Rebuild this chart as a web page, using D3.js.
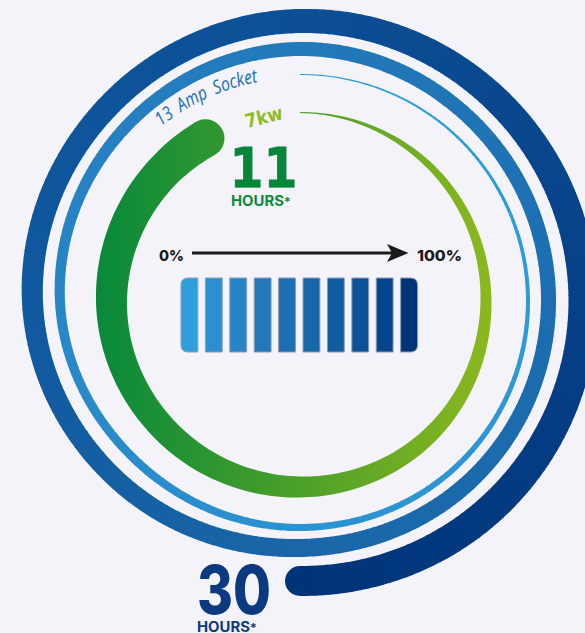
<!DOCTYPE html>
<html><head><meta charset="utf-8">
<script src="https://cdn.jsdelivr.net/npm/d3@7"></script>
<style>html,body{margin:0;padding:0;background:#f3f3f9;overflow:hidden}svg{display:block}</style>
</head><body><svg id="c" width="585" height="633"></svg>
<script>
// data
const chargeLabels = ["13 Amp Socket", "7kw"];
const chargeHours = [30, 11];
const hourLabel = "HOURS";
const hourMark = "*";
const scaleLabels = ["0%", "100%"];
const keyLevels = [0,1,2,3,4,5,6,7,8,9];
const keyColors = ["#2f9fdc","#2b90cf","#2685c6","#2279ba","#1d6fb1","#1867a9","#125da0","#0c5198","#06448c","#003478"];
// spiral samples, one every 1.5 hours on the clock-like dial
const blueHours  = [0,1.5,3,4.5,6,7.5,9,10.5,12,13.5,15,16.5,18,19.5,21,22.5,24,25.5,27,28.5,30];
const blueRadius = [227.5,228,228,227,225.5,228,240,247,253,250,248.5,247,246,255,267.5,274,281,282,283,281.5,279];
const blueWidth  = [1,2.5,4,5.5,7,8.5,10,12,14,14.5,15,16.5,18,19,21,23,24,27,29,30,30];
const blueColors = ["#2d9fdd","#2d9ddb","#2c9ad9","#2c96d5","#2b92d2","#2a8ccc","#2886c6","#257fc0","#2279ba","#1f74b5","#1c6eb0","#1b6aac","#1a66a8","#155fa3","#10589f","#0e549a","#0c4f96","#09488f","#064088","#033a80","#003478"];
const greenHours  = [0,1.5,3,4.5,6,7.5,9,10.5,11];
const greenRadius = [189.5,188,186,186,185,186,188.5,189,189];
const greenWidth  = [1,7,11,16,21,26,31,36,38];
const greenStops  = ["#07893a","#4a9f2a","#8cb81e"];

const cx = 300, cy = 302;
const svg = d3.select("#c");
const root = svg.append("g").attr("transform", `translate(${cx},${cy})`);
const angle = d3.scaleLinear().domain([0,12]).range([0, 2*Math.PI]);

function smooth(xs, ys){
  return h => {
    let i = d3.bisectRight(xs, h) - 1;
    i = Math.max(0, Math.min(xs.length-2, i));
    const t = (h-xs[i])/(xs[i+1]-xs[i]);
    const p0 = ys[Math.max(0,i-1)], p1 = ys[i], p2 = ys[i+1], p3 = ys[Math.min(ys.length-1,i+2)];
    return 0.5*((2*p1)+(-p0+p2)*t+(2*p0-5*p1+4*p2-p3)*t*t+(-p0+3*p1-3*p2+p3)*t*t*t);
  };
}
function band(xs, rs, ws){
  const R = smooth(xs, rs), W = smooth(xs, ws);
  return d3.areaRadial().angle(h => angle(h))
    .innerRadius(h => R(h)-W(h)/2).outerRadius(h => R(h)+W(h)/2);
}
// blue spiral
const blueArea = band(blueHours, blueRadius, blueWidth);
const blueColor = d3.scaleLinear().domain(blueHours).range(blueColors);
const step = 0.05;
root.append("g").selectAll("path").data(d3.range(0, chargeHours[0], step)).join("path")
  .attr("d", h => blueArea([h, h+step/2, Math.min(h+step*1.15, chargeHours[0])]))
  .attr("fill", h => blueColor(h));
const capEnd = (hours, rs, ws, fill) => {
  const a = angle(hours) - Math.PI/2, r = rs[rs.length-1];
  root.append("circle").attr("cx", r*Math.cos(a)).attr("cy", r*Math.sin(a)).attr("r", ws[ws.length-1]/2).attr("fill", fill);
};
capEnd(chargeHours[0], blueRadius, blueWidth, blueColors[blueColors.length-1]);

// green spiral with a left-to-right gradient
const defs = svg.append("defs");
const lg = defs.append("linearGradient").attr("id","gr").attr("gradientUnits","userSpaceOnUse")
  .attr("x1",96-cx).attr("x2",491-cx).attr("y1",0).attr("y2",0);
lg.selectAll("stop").data(greenStops).join("stop")
  .attr("offset",(d,i)=>i/(greenStops.length-1)).attr("stop-color",d=>d);
const greenArea = band(greenHours, greenRadius, greenWidth);
root.append("path").attr("d", greenArea(d3.range(0, chargeHours[1]+0.001, 0.05))).attr("fill","url(#gr)");
capEnd(chargeHours[1], greenRadius, greenWidth, "url(#gr)");

// curved label
root.append("path").attr("id","lab2").attr("fill","none")
  .attr("d", d3.lineRadial().angle(h=>angle(h)).radius(224)(d3.range(-1.28,-0.25,0.02)));
root.append("text").attr("font-family","'Open Sans'").attr("font-style","italic").attr("font-weight",400)
  .attr("font-size",19).attr("fill","#1a6cb6").attr("word-spacing",4)
  .append("textPath").attr("href","#lab2").attr("textLength",108).attr("lengthAdjust","spacingAndGlyphs").text(chargeLabels[0]);
svg.append("text").attr("transform","translate(247,128) rotate(-14)")
  .attr("font-family","'DejaVu Sans'").attr("font-weight",700).attr("font-size",19).attr("fill","#8fbb1e")
  .attr("textLength",38).attr("lengthAdjust","spacingAndGlyphs").text(chargeLabels[1]);

// big numbers
const big = (txt,x,y,size,len,fill,fam) => svg.append("text").attr("x",x).attr("y",y).attr("font-family",fam)
  .attr("font-weight",800).attr("font-size",size).attr("fill",fill).attr("textLength",len).attr("lengthAdjust","spacingAndGlyphs").text(txt);
big(chargeHours[1],229.5,187,55,68,"#07863a","'DejaVu Sans'").attr("stroke","#07863a").attr("stroke-width",0.8);
big(chargeHours[0],197,614,67,74,"#0b3a80","Inter");
const hours = (x,y,fill) => {
  const t = big(hourLabel,x,y,14,60,fill,"Inter").attr("font-weight",700);
  t.append("tspan").attr("font-size",12).text(hourMark);
};
hours(231,205.5,"#0b8a3b");
hours(197,631.5,"#0b3a80");

// arrow and percent labels
big(scaleLabels[0],159,261,15,25,"#1a1a1a","Inter");
big(scaleLabels[1],417,261,15,45,"#1a1a1a","Inter");
svg.append("line").attr("x1",192).attr("x2",392).attr("y1",253).attr("y2",253).attr("stroke","#1a1a1a").attr("stroke-width",3);
svg.append("path").attr("d",d3.line()([[387,244],[408.5,253],[387,262],[392,253]])+"Z").attr("fill","#1a1a1a");

// colour key
const x = d3.scaleBand().domain(keyLevels).range([181,417.5]).paddingInner(0.31);
const kh = 74, ky = 278, rr = 7, w = x.bandwidth();
const roundPath = (i) => {
  const X = x(i);
  if(i===keyLevels[0]) return `M${X+w},${ky}V${ky+kh}H${X+rr}Q${X},${ky+kh} ${X},${ky+kh-rr}V${ky+rr}Q${X},${ky} ${X+rr},${ky}Z`;
  if(i===keyLevels[keyLevels.length-1]) return `M${X},${ky}V${ky+kh}H${X+w-rr}Q${X+w},${ky+kh} ${X+w},${ky+kh-rr}V${ky+rr}Q${X+w},${ky} ${X+w-rr},${ky}Z`;
  return `M${X},${ky}H${X+w}V${ky+kh}H${X}Z`;
};
svg.append("g").selectAll("path").data(keyLevels).join("path")
  .attr("d",roundPath).attr("fill",(d,i)=>keyColors[i]).attr("stroke","#8b9cb4").attr("stroke-width",1);
</script></body></html>
